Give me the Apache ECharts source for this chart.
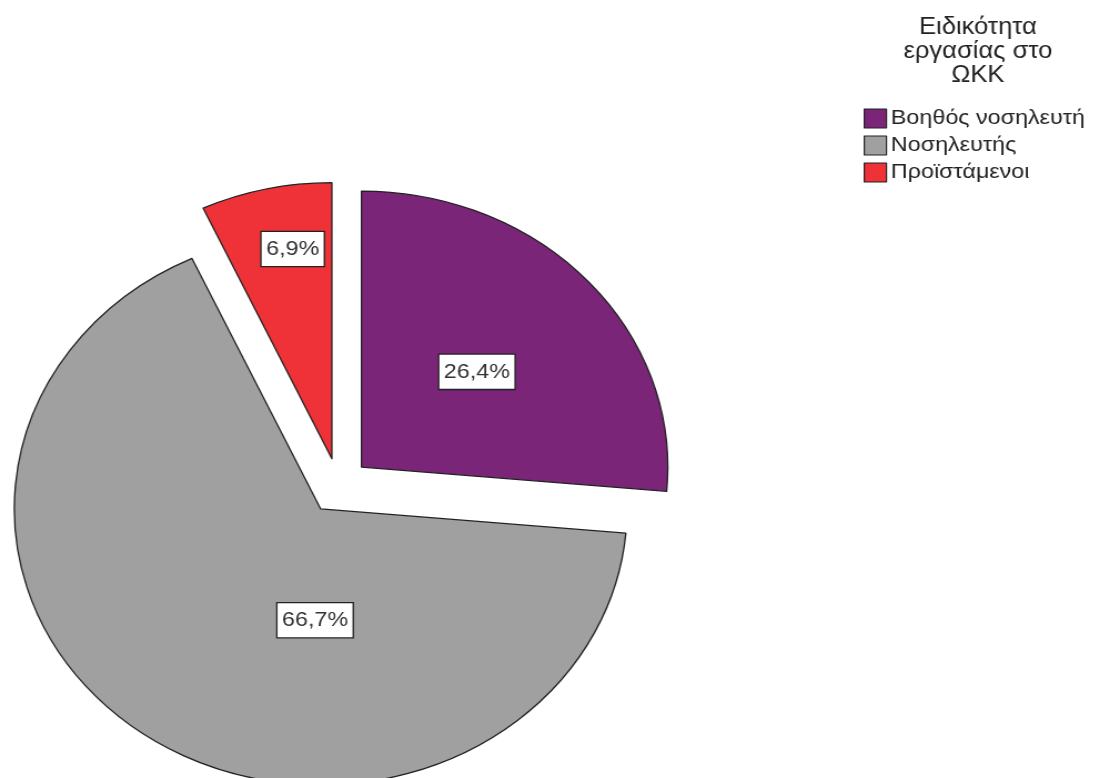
<!DOCTYPE html>
<html>
<head>
<meta charset="utf-8">
<script src="https://cdn.jsdelivr.net/npm/echarts@6/dist/echarts.min.js"></script>
<style>
  html, body { margin: 0; padding: 0; background: #fff; overflow: hidden; }
  #wrap { width: 1094px; height: 778px; overflow: hidden; }
  #chart { width: 986px; height: 778px; transform: scaleX(1.11); transform-origin: 0 0; }
</style>
</head>
<body>
<div id="wrap"><div id="chart"></div></div>
<script>
const legendTitle = 'Ειδικότητα\nεργασίας στο\nΩΚΚ';
const categories = ['Βοηθός νοσηλευτή', 'Νοσηλευτής', 'Προϊστάμενοι'];
const values = [26.4, 66.7, 6.9];
const colors = ['#7B2579', '#A0A0A0', '#EE3237'];

const labelShift = [[0, 0], [76, -4], [-5, -72]];

const chart = echarts.init(document.getElementById('chart'));
chart.setOption({
  animation: false,
  title: {
    text: legendTitle,
    left: 876,
    top: 11,
    textAlign: 'center',
    textStyle: {
      fontFamily: 'Liberation Sans, Arial, sans-serif',
      fontSize: 23,
      fontWeight: 'normal',
      lineHeight: 24,
      color: '#222'
    }
  },
  legend: {
    orient: 'vertical',
    left: 773,
    top: 103,
    itemWidth: 20,
    itemHeight: 19,
    itemGap: 6,
    selectedMode: false,
    icon: 'rect',
    data: categories,
    itemStyle: { borderColor: '#222', borderWidth: 1.2 },
    textStyle: {
      fontFamily: 'Liberation Sans, Arial, sans-serif',
      fontSize: 21,
      lineHeight: 21,
      color: '#222',
      padding: [0, 0, 0, -1]
    }
  },
  series: [{
    type: 'pie',
    center: [305, 486],
    radius: [0, 276],
    startAngle: 90,
    clockwise: true,
    selectedMode: 'multiple',
    selectedOffset: 28,
    emphasis: { disabled: true },
    select: { disabled: false },
    itemStyle: { borderColor: '#222', borderWidth: 1.3 },
    label: {
      show: true,
      position: 'inside',
      fontFamily: 'Liberation Sans, Arial, sans-serif',
      fontSize: 21,
      color: '#333',
      backgroundColor: '#fff',
      borderColor: '#222',
      borderWidth: 1.3,
      padding: [7, 4, 6, 4],
      formatter: p => p.value.toFixed(1).replace('.', ',') + '%'
    },
    labelLine: { show: false },
    labelLayout: p => ({ dx: labelShift[p.dataIndex][0], dy: labelShift[p.dataIndex][1] }),
    data: categories.map((c, i) => ({
      name: c,
      value: values[i],
      selected: true,
      itemStyle: { color: colors[i] }
    }))
  }]
});
</script>
</body>
</html>
